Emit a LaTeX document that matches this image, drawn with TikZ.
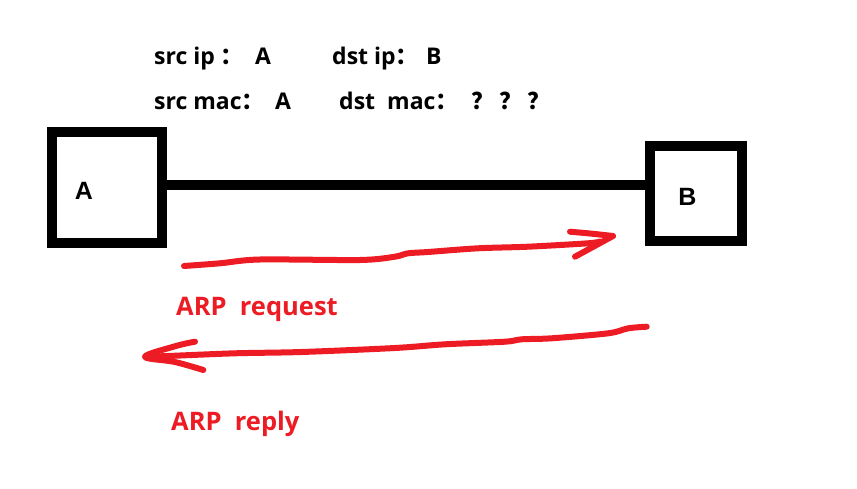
\documentclass[tikz,border=0pt]{standalone}
\usepackage{fontspec}
\setmainfont{Open Sans}
\newfontfamily\cjk{Noto Sans CJK SC}
\newfontfamily\arialf{Liberation Sans}
\definecolor{pred}{RGB}{237,28,36}
\begin{document}
\begin{tikzpicture}[x=1pt,y=-1pt,
  info/.style={anchor=base west, inner sep=0pt, font=\fontsize{23}{27}\selectfont\bfseries},
  redlbl/.style={anchor=base west, inner sep=0pt, text=pred, font=\fontsize{25.5}{30}\selectfont\bfseries},
  hostbox/.style={draw=black, line width=10pt, fill=white, inner sep=0pt},
  hostlbl/.style={inner sep=0pt, font=\arialf\fontsize{25}{30}\selectfont\bfseries},
  wire/.style={draw=black, line width=10pt},
  redstroke/.style={draw=pred, line width=6pt, line cap=round, line join=round}]
\fill[white] (0,0) rectangle (857,489);
\useasboundingbox (0,0) rectangle (857,489);
% hosts
\node[hostbox, minimum width=110pt, minimum height=111pt] (Abox) at (107,187.5) {};
\node[hostbox, minimum width=92pt, minimum height=95pt] (Bbox) at (696,193.5) {};
\node[hostlbl] (Alabel) at (84,191) {A};
\node[hostlbl] (Blabel) at (687.5,196.5) {B};
\draw[wire] (Abox.east |- {(0,185)}) -- (Bbox.west |- {(0,185)});
% header info
\node[info] (t1) at (154,65) {src ip {\cjk ：}};
\node[info] (t2) at (255,65) {A};
\node[info] (t3) at (332,65) {dst ip{\cjk ：}};
\node[info] (t4) at (426,65) {B};
\node[info] (t5) at (154,110) {src mac{\cjk ：}};
\node[info] (t6) at (275,110) {A};
\node[info] (t7) at (339,110) {dst};
\node[info] (t8) at (387,110) {mac{\cjk ：}};
\node[info] (t9) at (471,110) {{\cjk ？ ？ ？}};
% request arrow
\draw[redstroke] plot[smooth, tension=0.5] coordinates {(184,266) (220,263.3) (260,259.5) (360,260) (395,256.7) (408,253.3) (428,252) (478,248.3) (528,246.7) (588,243.3) (600,241.5)};
\draw[redstroke] plot[smooth, tension=0.5] coordinates {(570,231.7) (590,233.5) (613,236)} -- (575,256.7);
\node[redlbl] (req) at (176,316) {ARP~~request};
% reply arrow
\draw[redstroke] plot[smooth, tension=0.5] coordinates {(646.7,326.7) (628.3,328.3) (608.3,333.3) (551.7,338.3) (521.7,339.3) (505,341.7) (445,344.3) (395,348) (301.7,352) (235,353.3) (168.3,356) (147,356.7)};
\draw[redstroke] plot[smooth, tension=0.6] coordinates {(195,341.7) (176,346) (145,356.7) (175,362) (203.3,370)};
\node[redlbl] (rep) at (171,430) {ARP~~reply};
\end{tikzpicture}
\end{document}
